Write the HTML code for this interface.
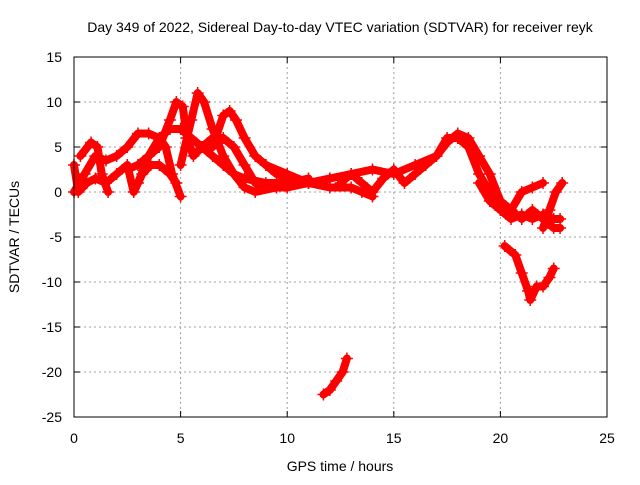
<!DOCTYPE html>
<html><head><meta charset="utf-8"><style>
body{margin:0;background:#fff;width:640px;height:480px;overflow:hidden}
svg text{font-family:"Liberation Sans",sans-serif;font-size:14px;fill:#000}
</style></head><body>
<svg id="chart" width="640" height="480" xmlns="http://www.w3.org/2000/svg">
<rect width="640" height="480" fill="#fff"/>
<g id="grid"></g>
<g id="axes"></g>
<g id="series"></g>
<rect x="74" y="57" width="533" height="360" fill="none" stroke="#000" stroke-width="1"/>
<text x="340" y="32" text-anchor="middle">Day 349 of 2022, Sidereal Day-to-day VTEC variation (SDTVAR) for receiver reyk</text>
<text x="340" y="471" text-anchor="middle">GPS time / hours</text>
<text transform="translate(19,237) rotate(-90)" text-anchor="middle">SDTVAR / TECUs</text>
</svg>
<script>
const xTicks=[0,5,10,15,20,25];
const yTicks=[15,10,5,0,-5,-10,-15,-20,-25];
const track1=[[0,0],[0.5,2],[1,4],[1.5,3.5],[2,4],[2.5,5],[3,6.5],[3.5,6.5],[4,6],[4.5,7],[5,7],[5.5,6],[6,5],[6.5,4],[7,3],[7.5,2],[8,1.5],[9,1],[10,1],[11,1.5]];
const track2=[[0.3,4],[0.8,5.5],[1.1,5],[1.3,2],[1.6,0]];
const track3=[[2.5,2.5],[3,3],[3.5,4],[4,5],[4.5,8],[4.8,10],[5.1,9.5],[5.3,6],[5.6,4],[6,5],[6.5,6],[7,6],[7.5,5],[8,3],[8.5,1],[9,0.5],[10,0.5]];
const track4=[[5,3],[5.5,8],[5.8,11],[6.1,10],[6.5,7],[7,4],[7.5,2],[8,0.5],[8.5,0],[9.5,0.5],[10.5,1]];
const track5=[[6.5,5],[7,8.5],[7.3,9],[7.6,8],[8,6],[8.5,4],[9,3],[9.5,2],[10,1.5],[11,1],[12,1.5]];
const track6=[[0,3],[0.2,0],[0.6,1],[1,1.5],[1.5,1],[2,2],[2.5,3],[2.8,0],[3.2,2],[3.6,3],[4,3],[4.5,2],[4.8,1]];
const track7=[[3,1],[3.5,4],[4,6],[4.3,5],[4.6,2],[5,-0.5]];
const track8=[[9,3],[10,2],[11,1],[12,0.5],[13,0.5],[13.5,0],[14,-0.5]];
const track9=[[10,0.5],[11,1],[12,1.5],[13,2],[13.5,1],[14,0],[14.5,1.5],[15,2.5],[15.5,1],[16,2],[16.5,3],[17,4],[17.5,5.5],[18,6.5],[18.5,6],[19,4],[19.5,2],[20,-1],[20.5,-2],[21,-3],[21.5,-2],[22,-3],[22.5,-4],[22.8,-4]];
const track10=[[12.5,1],[13,2],[14,2.5],[15,2],[16,3],[17,4],[17.5,6],[18,6],[18.5,5],[19,2],[19.5,0],[20,-2],[20.5,-3],[21,-2.5],[21.5,-3],[22,-2.5],[22.5,-3],[22.8,-3]];
const track11=[[19,1],[19.5,-1],[20,-2],[20.5,-2],[21,0],[21.5,0.5],[22,1]];
const track12=[[22,-4],[22.3,-2],[22.6,0],[22.9,1]];
const track13=[[20.2,-6],[20.7,-7],[21,-9],[21.3,-11],[21.4,-12],[21.7,-10.5],[22,-10.5],[22.3,-9.5],[22.5,-8.5]];
const track14=[[11.7,-22.5],[12,-22],[12.3,-21],[12.6,-20],[12.8,-18.5]];
const tracks=[track1,track2,track3,track4,track5,track6,track7,track8,track9,track10,track11,track12,track13,track14];
const NS='http://www.w3.org/2000/svg';
const X=t=>74+(t-0)/25*533;
const Y=v=>57+(15-v)/40*360;
const grid=document.getElementById('grid'),axes=document.getElementById('axes'),ser=document.getElementById('series');
function mk(tag,attrs,parent){const e=document.createElementNS(NS,tag);for(const k in attrs)e.setAttribute(k,attrs[k]);parent.appendChild(e);return e;}
xTicks.forEach(t=>{
 if(t>0&&t<25){const g=mk('line',{x1:X(t),x2:X(t),y1:57,y2:417,stroke:'#a0a0a0','stroke-dasharray':'2,3'},grid);
 
 }
 mk('line',{x1:X(t),x2:X(t),y1:417,y2:411,stroke:'#000'},axes);
 mk('line',{x1:X(t),x2:X(t),y1:57,y2:63,stroke:'#000'},axes);
 const l=mk('text',{x:X(t),y:443,'text-anchor':'middle'},axes);l.textContent=t;
 
 
});
yTicks.forEach(v=>{
 if(v<15&&v>-25){const g=mk('line',{x1:74,x2:607,y1:Y(v),y2:Y(v),stroke:'#a0a0a0','stroke-dasharray':'2,3'},grid);
 
 }
 mk('line',{x1:74,x2:80,y1:Y(v),y2:Y(v),stroke:'#000'},axes);
 mk('line',{x1:601,x2:607,y1:Y(v),y2:Y(v),stroke:'#000'},axes);
 const l=mk('text',{x:62,y:Y(v)+5,'text-anchor':'end'},axes);l.textContent=v;
 
 
});
tracks.forEach(tr=>{
 const p=mk('polyline',{points:tr.map(d=>X(d[0])+','+Y(d[1])).join(' '),fill:'none',stroke:'#ff0000','stroke-width':8,'stroke-linejoin':'round','stroke-linecap':'round'},ser);
 
 
 tr.forEach(d=>{const x=X(d[0]),y=Y(d[1]);
  const m=mk('path',{d:`M${x-6},${y}h12M${x},${y-6}v12`,stroke:'#ff0000','stroke-width':1.5},ser);
  
  
 });
});
</script>
</body></html>
